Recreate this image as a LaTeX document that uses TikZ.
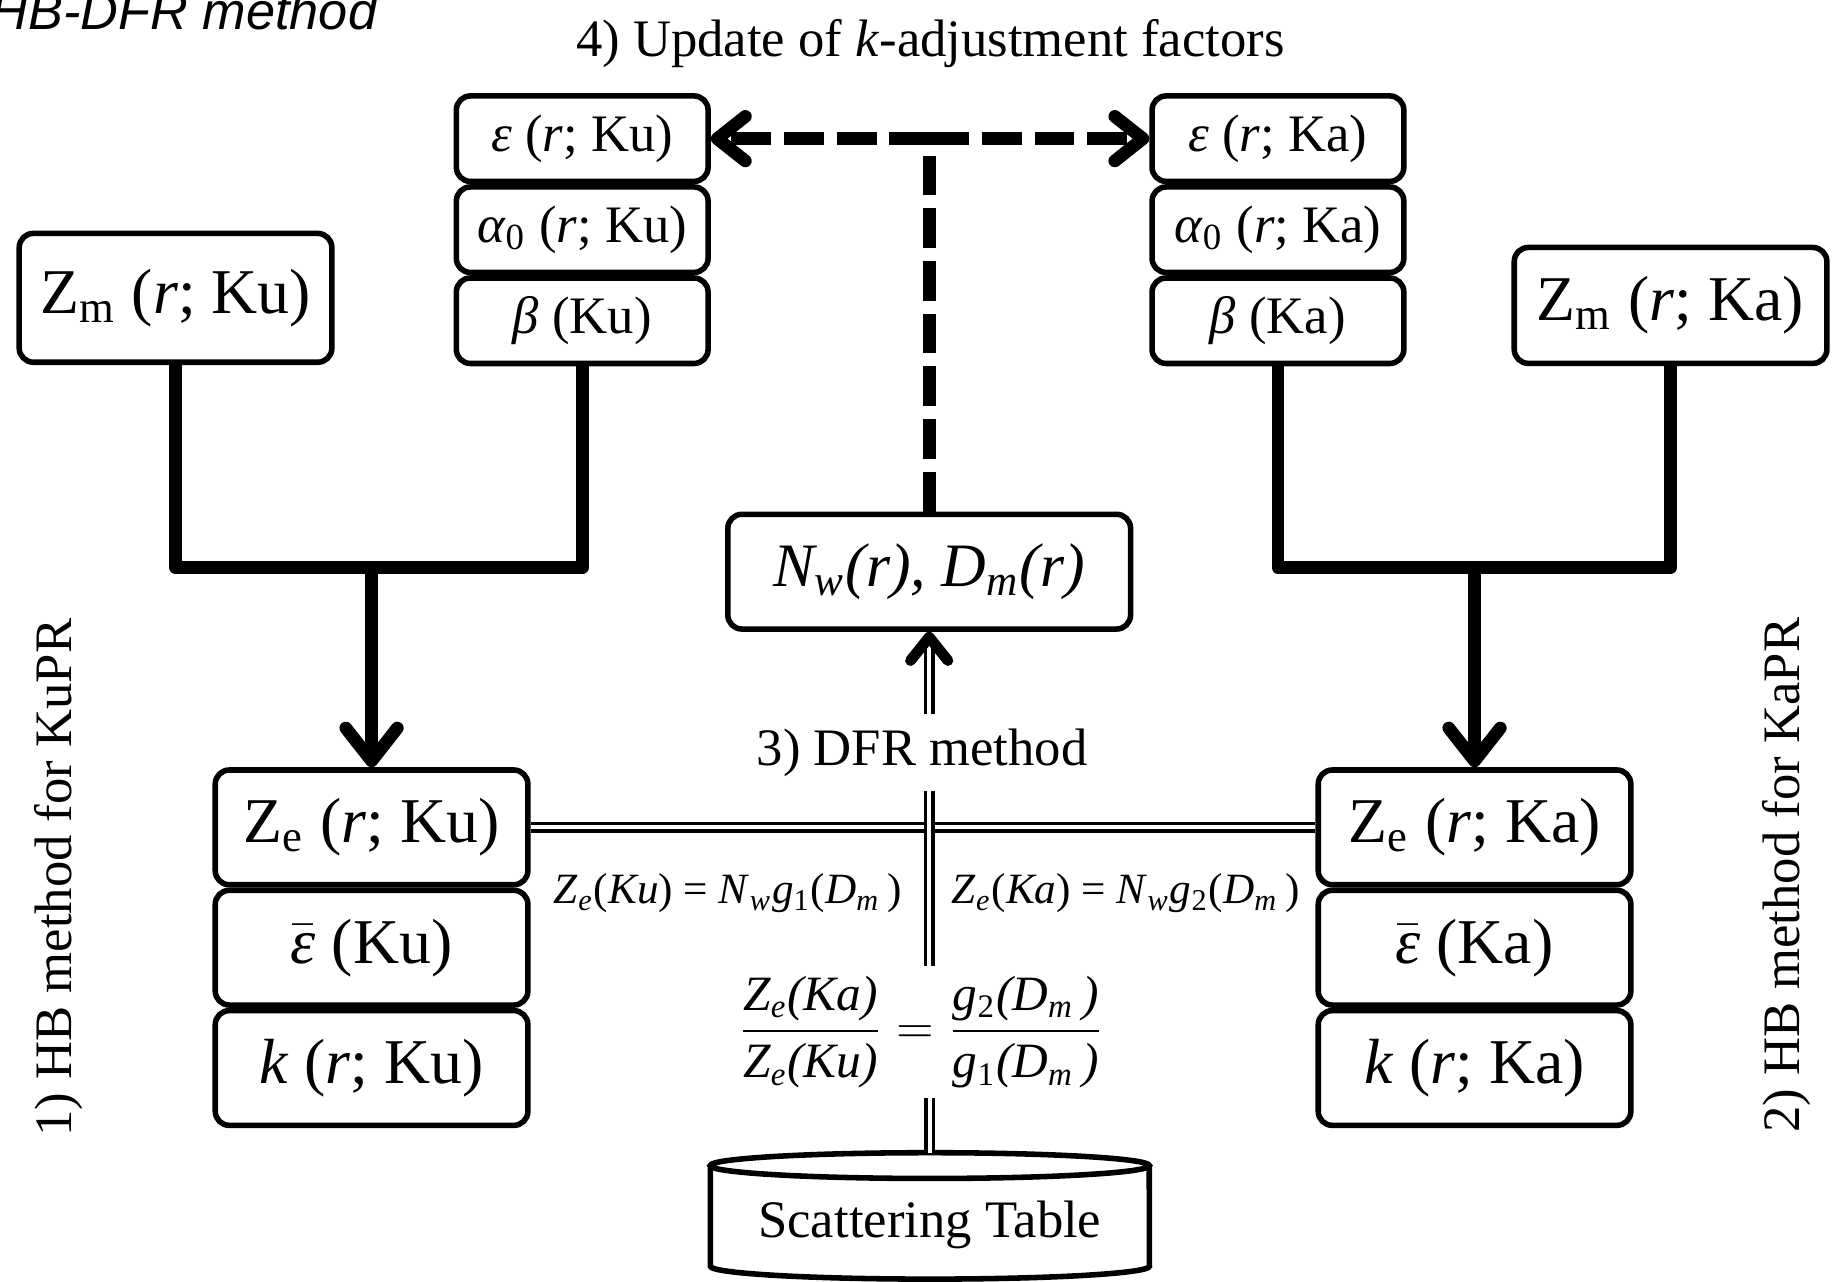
\documentclass[tikz,border=0pt]{standalone}
\usepackage{fontspec}
\usepackage{amsmath}
\setmainfont{Liberation Serif}
\setsansfont{Liberation Sans}
\usetikzlibrary{arrows.meta, positioning, calc}
\tikzstyle{box} = [draw, rounded corners=0.12cm, line width=1.35pt, align=center, inner sep=0pt]
\tikzstyle{smallbox} = [box, minimum width=2.15cm, minimum height=0.73cm, font=\fontsize{12.8}{15}\selectfont]
\tikzstyle{bigbox} = [box, minimum width=2.67cm, minimum height=0.98cm, font=\fontsize{15.5}{18}\selectfont]
\tikzstyle{note} = [font=\fontsize{12.8}{15}\selectfont]
\tikzstyle{eq} = [font=\fontsize{10.5}{12}\selectfont]
\tikzstyle{link} = [line width=3.1pt, line join=round]
\tikzstyle{arrow} = [link, -{Straight Barb[length=0.28cm, width=0.44cm, line cap=round, line join=round]}]
\tikzstyle{dashlink} = [line width=3.1pt, dash pattern=on 0.34cm off 0.11cm, -{Straight Barb[length=0.24cm, width=0.38cm, line cap=round, line join=round]}]
\tikzstyle{dbl} = [double, double distance=1pt, line width=0.8pt]
\newcommand{\zeq}[2]{\textit{Z}\textsubscript{\textit{e}}(\textit{#1}) = \textit{N}\textsubscript{\textit{w}}\textit{g}\textsubscript{#2}(\textit{D}\textsubscript{\textit{m}}\,)}

\begin{document}
\begin{tikzpicture}[x=0.01cm, y=-0.01cm]
  \useasboundingbox (0,0) rectangle (1568,1095);
  \clip (0,0) rectangle (1568,1095);

  % titles
  \node[anchor=base east, inner sep=0pt, font=\sffamily\itshape\fontsize{12.7}{15}\selectfont] (title) at (323,25) {HB-DFR method};
  \node[note] (update) at (795,37) {4) Update of \textit{k}-adjustment factors};
  \node[note, rotate=90] (hbku) at (50,750) {1) HB method for KuPR};
  \node[note, rotate=90] (hbka) at (1527,748) {2) HB method for KaPR};

  % k-adjustment factors
  \node[smallbox] (epsku) at (497.5,118.5) {\textit{ε} (\textit{r}; Ku)};
  \node[smallbox, below=0pt of epsku] (alpku) {\textit{α}\textsubscript{0} (\textit{r}; Ku)};
  \node[smallbox, below=0pt of alpku] (betku) {\textit{β} (Ku)};
  \node[smallbox] (epska) at (1092,118.5) {\textit{ε} (\textit{r}; Ka)};
  \node[smallbox, below=0pt of epska] (alpka) {\textit{α}\textsubscript{0} (\textit{r}; Ka)};
  \node[smallbox, below=0pt of alpka] (betka) {\textit{β} (Ka)};

  % measured Z
  \node[bigbox, minimum height=1.1cm] (zmku) at (150,254.5) {Z\textsubscript{m} (\textit{r}; Ku)};
  \node[bigbox, minimum height=0.99cm] (zmka) at (1427.5,261) {Z\textsubscript{m} (\textit{r}; Ka)};

  % DSD parameters
  \node[bigbox, minimum width=3.44cm, font=\fontsize{15}{18}\selectfont\itshape] (nw) at (794,488.5) {N\textsubscript{w}(r), D\textsubscript{m}(r)};

  % HB outputs
  \node[bigbox] (zeku) at (317.5,707) {Z\textsubscript{e} (\textit{r}; Ku)};
  \node[bigbox, below=0pt of zeku] (ebku) {$\bar{\text{\itshape ε}}$ (Ku)};
  \node[bigbox, below=0pt of ebku] (kku) {\textit{k} (\textit{r}; Ku)};
  \node[bigbox] (zeka) at (1260,707) {Z\textsubscript{e} (\textit{r}; Ka)};
  \node[bigbox, below=0pt of zeka] (ebka) {$\bar{\text{\itshape ε}}$ (Ka)};
  \node[bigbox, below=0pt of ebka] (kka) {\textit{k} (\textit{r}; Ka)};

  % DFR
  \node[note, inner sep=0.12cm] (dfr) at (788,643) {3) DFR method};
  \node[eq] (eqku) at (622,763) {\zeq{Ku}{1}};
  \node[eq] (eqka) at (962,763) {\zeq{Ka}{2}};
  \node[font=\fontsize{12}{14}\selectfont, inner sep=0.08cm] (ratio) at (787,882)
    {$\dfrac{\text{\itshape Z\textsubscript{e}(Ka)}}{\text{\itshape Z\textsubscript{e}(Ku)}} = \dfrac{\text{\itshape g\textsubscript{\upshape 2}(D\textsubscript{m}\,)}}{\text{\itshape g\textsubscript{\upshape 1}(D\textsubscript{m}\,)}}$};

  % scattering table
  \draw[line width=1.35pt] (607,996) -- (607,1082) arc[start angle=180, end angle=360, x radius=1.875cm, y radius=0.11cm] -- (982,996);
  \draw[line width=1.35pt] (794.5,996) ellipse [x radius=1.875cm, y radius=0.11cm];
  \node[note] (table) at (794.5,1047) {Scattering Table};
  \coordinate (tabletop) at (794.5,985);

  % HB connectors
  \coordinate (busku) at (317.5,485);
  \coordinate (buska) at (1260,485);
  \draw[link] (zmku.south) -- (zmku.south |- busku) -| (betku.south);
  \draw[arrow] (busku) -- (zeku.north);
  \draw[link] (betka.south) -- (betka.south |- buska) -| (zmka.south);
  \draw[arrow] (buska) -- (zeka.north);

  % update of factors
  \coordinate (dashjoin) at (nw.north |- epsku.east);
  \draw[dashlink, -] (nw.north) -- ++(0,-308);
  \draw[dashlink] (dashjoin) -- (epsku.east);
  \draw[dashlink] (dashjoin) -- (epska.west);

  % DFR connectors
  \draw[dbl] (zeku.east) -- (zeka.west);
  \draw[dbl] (tabletop) -- (tabletop |- ratio.south);
  \draw[dbl] (nw.south |- ratio.north) -- (nw.south |- dfr.south);
  \draw[dbl, -{Straight Barb[length=0.2cm, width=0.32cm, line width=2.6pt, line cap=round, line join=round]}] (nw.south |- dfr.north) -- (nw.south);
\end{tikzpicture}
\end{document}
